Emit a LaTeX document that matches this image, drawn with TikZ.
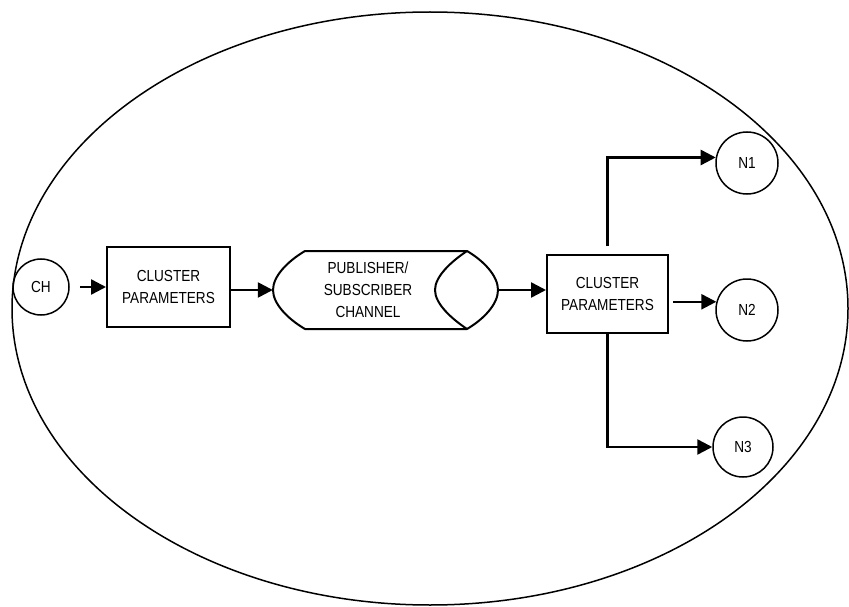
\documentclass[tikz,border=0pt]{standalone}
\usepackage{fontspec}
\setmainfont{Liberation Sans}[FakeStretch=0.85]
\usetikzlibrary{arrows.meta}
\begin{document}
\begin{tikzpicture}[x=1pt,y=-1pt,
  every node/.style={font=\fontsize{16}{22}\selectfont, align=center, inner sep=0pt},
  procbox/.style={draw, line width=2pt, minimum width=123pt, minimum height=80pt},
  sensor/.style={draw, circle, line width=1.5pt, minimum size=#1},
  flow/.style={line width=2.5pt, -{Triangle[length=15pt,width=15pt]}},
]
\useasboundingbox (0,0) rectangle (849,607);

% cluster boundary
\draw[line width=1.5pt] (430,308.5) ellipse [x radius=418, y radius=296.5];

% nodes
\node[sensor=56pt] (CH) at (41,287) {CH};
\node[procbox] (CP1) at (168.5,287) {CLUSTER\\PARAMETERS};
\node[minimum width=225pt, minimum height=78pt] (chan) at (385.5,290) {};
\node[procbox, minimum width=121pt, minimum height=78pt] (CP2) at (607.5,294) {CLUSTER\\PARAMETERS};
\node[sensor=62pt] (N1) at (747,163) {N1};
\node[sensor=62pt] (N2) at (747,310) {N2};
\node[sensor=60pt] (N3) at (743,447) {N3};

% publisher/subscriber channel drawn as a horizontal pipe (y axis points down)
\draw[line width=2pt, line join=round]
  (305,251) -- (467,251)
  .. controls (484,261) and (498,276) .. (498,290)
  .. controls (498,304) and (484,319) .. (467,329)
  -- (305,329)
  .. controls (288,319) and (273,304) .. (273,290)
  .. controls (273,276) and (288,261) .. (305,251) -- cycle;
\draw[line width=2pt]
  (467,251) .. controls (452,261) and (435,276) .. (435,290)
  .. controls (435,304) and (452,319) .. (467,329);
\node at (368,290) {PUBLISHER/\\SUBSCRIBER\\CHANNEL};

% connectors
\draw[flow, shorten <=10pt] (CH.east) -- (CP1.west);
\draw[flow] (CP1.east |- chan.west) -- (chan.west);
\draw[flow] (chan.east) -- (chan.east -| CP2.west);
\draw[flow] ([yshift=8pt]CP2.north) |- (N1.170);
\draw[flow] ([xshift=4pt]CP2.east |- N2.165) -- (N2.165);
\draw[flow] (CP2.south) |- (N3.west);
\end{tikzpicture}
\end{document}
